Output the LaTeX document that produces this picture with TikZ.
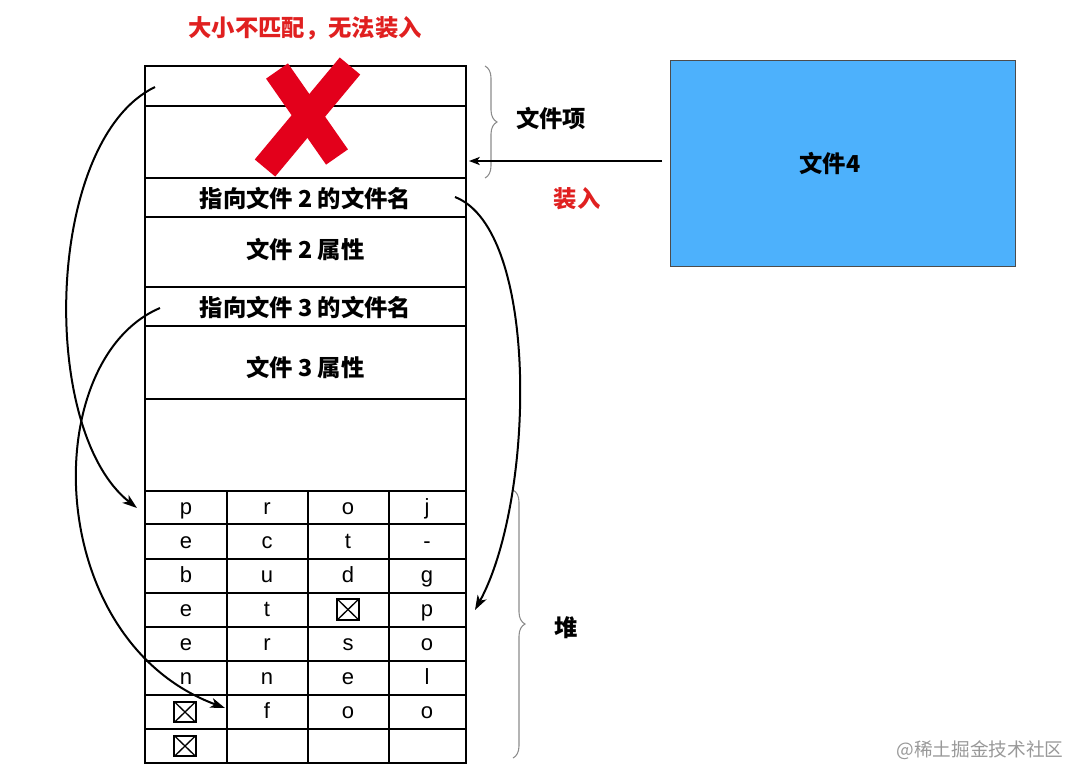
\documentclass[tikz,border=0pt]{standalone}
\usepackage{fontspec}
\setmainfont{Liberation Sans}
\newfontfamily\cjk{Noto Sans CJK SC}
\usetikzlibrary{arrows.meta,decorations.pathreplacing}
\definecolor{xred}{HTML}{E3001B}
\definecolor{tred}{HTML}{E02020}
\definecolor{fblue}{HTML}{4DB1FC}
\begin{document}
\begin{tikzpicture}[x=0.75pt,y=-0.75pt,line width=1.4pt,
  lbl/.style={font=\cjk\bfseries\fontsize{17.5}{17.5}\selectfont,inner sep=0pt},
  side/.style={font=\cjk\bfseries\fontsize{17.5}{17.5}\selectfont,inner sep=0pt},
  redt/.style={font=\cjk\bfseries\fontsize{17.5}{17.5}\selectfont,text=tred,inner sep=0pt},
  cell/.style={font=\fontsize{16.5}{16.5}\selectfont,inner sep=0pt,anchor=base},
  boxx/.style={draw,line width=1.3pt,minimum width=16pt,minimum height=15.5pt,inner sep=0pt,
    path picture={\draw[line width=1pt] (path picture bounding box.north west) -- (path picture bounding box.south east)
      (path picture bounding box.north east) -- (path picture bounding box.south west);}},
  arr/.style={-{Stealth[length=11pt,width=7.5pt,inset=3pt]},line width=1.5pt},
  harr/.style={-{Stealth[length=8pt,width=6pt,inset=2pt]},line width=1.5pt},
  brc/.style={draw=black!45,line width=0.8pt,decorate,decoration={brace,amplitude=9pt}}]
\useasboundingbox (0,0) rectangle (1080,783);

% main column
\draw (145,66) rectangle (466,763);
\foreach \y in {106,178,217,287,326,399,491,524,559,593,627,661,695,729}
  \draw (145,\y) -- (466,\y);
\foreach \x in {227,308,389}
  \draw (\x,491) -- (\x,763);

% red X
\draw[xred,line width=20pt] (277,71) -- (337,157);
\draw[xred,line width=20pt] (350,66) -- (265,168);

% row labels
\node[redt] (title) at (305,28) {大小不匹配，无法装入};
\node[lbl] (t2name) at (305.5,198) {指向文件 2 的文件名};
\node[lbl] (t2attr) at (305.5,249) {文件 2 属性};
\node[lbl] (t3name) at (305.5,307) {指向文件 3 的文件名};
\node[lbl] (t3attr) at (305.5,367) {文件 3 属性};

% grid letters
\foreach \a/\b/\c/\d [count=\r] in {p/r/o/j,e/c/t/-,b/u/d/g,e/t//p,e/r/s/o,n/n/e/l,/f/o/o}{
  \pgfmathsetmacro\yy{491+(\r-1)*34+23.5}
  \node[cell] (c\r a) at (186,\yy) {\a};
  \node[cell] (c\r b) at (267,\yy) {\b};
  \node[cell] (c\r c) at (348,\yy) {\c};
  \node[cell] (c\r d) at (427,\yy) {\d};
}
\node[boxx] (bx1) at (348,609.5) {};
\node[boxx] (bx2) at (185,712) {};
\node[boxx] (bx3) at (185,746) {};

% braces
\draw[brc] (485,66) -- (485,178);
\draw[brc] (513,490) -- (513,758);
\node[side] (lxiang) at (551,119) {文件项};
\node[side] (ldui) at (566,628) {堆};

% file 4
\node[draw=black!70,line width=0.8pt,fill=fblue,minimum width=258.75pt,minimum height=154.5pt,
  anchor=north west,inner sep=0pt] (fb) at (670,60) {};
\node[side] (f4) at (830,163) {文件4};
\node[redt] (load) at (577,199) {装入};

% connectors
\coordinate (h1) at (662,161);
\coordinate (h2) at (469,161);
\draw[harr] (h1) -- (h2);

\coordinate (a1s) at (155,87);
\coordinate (a1e) at (137,508);
\draw[arr] (a1s) .. controls (45,140) and (38,430) .. (a1e);

\coordinate (a2s) at (160,308);
\coordinate (a2e) at (225,708);
\draw[arr] (a2s) .. controls (38,360) and (42,640) .. (a2e);

\coordinate (a3s) at (455,197);
\coordinate (a3e) at (475,610);
\draw[arr] (a3s) .. controls (540,230) and (535,500) .. (a3e);

% watermark
\node[font=\cjk\fontsize{14}{14}\selectfont,text=black!40,inner sep=0pt] (wm) at (980,750) {@稀土掘金技术社区};
\end{tikzpicture}
\end{document}
